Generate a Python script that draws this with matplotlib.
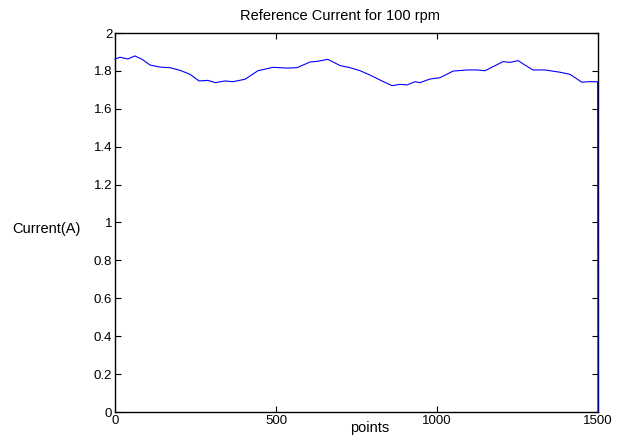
import matplotlib
matplotlib.use('Agg')
import matplotlib.pyplot as plt
import numpy as np

plt.rcParams['font.family'] = ['Liberation Sans', 'DejaVu Sans']

# sample index vs. reference current (A)
points = [0, 16, 40, 62, 84, 109, 140, 171, 202, 233, 261, 289, 311, 342, 366,
          404, 444, 491, 534, 565, 606, 630, 661, 699, 730, 761, 792, 823, 860,
          885, 907, 932, 947, 978, 1009, 1050, 1093, 1124, 1149, 1174, 1205,
          1227, 1252, 1273, 1298, 1335, 1382, 1413, 1450, 1469, 1499, 1500]
current = [1.863, 1.872, 1.863, 1.879, 1.861, 1.831, 1.820, 1.817, 1.803, 1.782,
           1.747, 1.750, 1.738, 1.747, 1.743, 1.756, 1.801, 1.819, 1.815, 1.817,
           1.847, 1.851, 1.861, 1.828, 1.817, 1.801, 1.778, 1.752, 1.722, 1.729,
           1.726, 1.743, 1.738, 1.757, 1.764, 1.799, 1.805, 1.805, 1.801, 1.822,
           1.849, 1.845, 1.854, 1.831, 1.805, 1.805, 1.793, 1.782, 1.740, 1.743,
           1.743, 0.0]

xticks = [0, 500, 1000, 1500]
yticks = np.round(np.arange(0, 2.01, 0.2), 1)
ytick_labels = ['0', '0.2', '0.4', '0.6', '0.8', '1', '1.2', '1.4', '1.6', '1.8', '2']

fig = plt.figure(figsize=(6.17, 4.36), dpi=100)
fig.patch.set_facecolor('white')
ax = fig.add_axes([115 / 617, 24 / 436, 483 / 617, 379 / 436])

ax.plot(points, current, color='#0000FF', lw=0.8, clip_on=False, zorder=5)

ax.set_xlim(0, 1500)
ax.set_ylim(0, 2)
ax.set_xticks(xticks)
ax.set_xticklabels([str(v) for v in xticks])
ax.set_yticks(yticks)
ax.set_yticklabels(ytick_labels)
ax.tick_params(direction='in', length=4, width=0.8, labelsize=9.5,
               top=True, right=True, pad=2)
for s in ax.spines.values():
    s.set_linewidth(1.0)

fig.text(339.5 / 617, 1 - 16 / 436, 'Reference Current for 100 rpm',
         ha='center', va='center', fontsize=10.5)
fig.text(46 / 617, 1 - 229 / 436, 'Current(A)', ha='center', va='center',
         fontsize=10.5)
fig.text(370 / 617, 1 - 428 / 436, 'points', ha='center', va='center',
         fontsize=10.5)

fig.savefig('out.png', dpi=100)
